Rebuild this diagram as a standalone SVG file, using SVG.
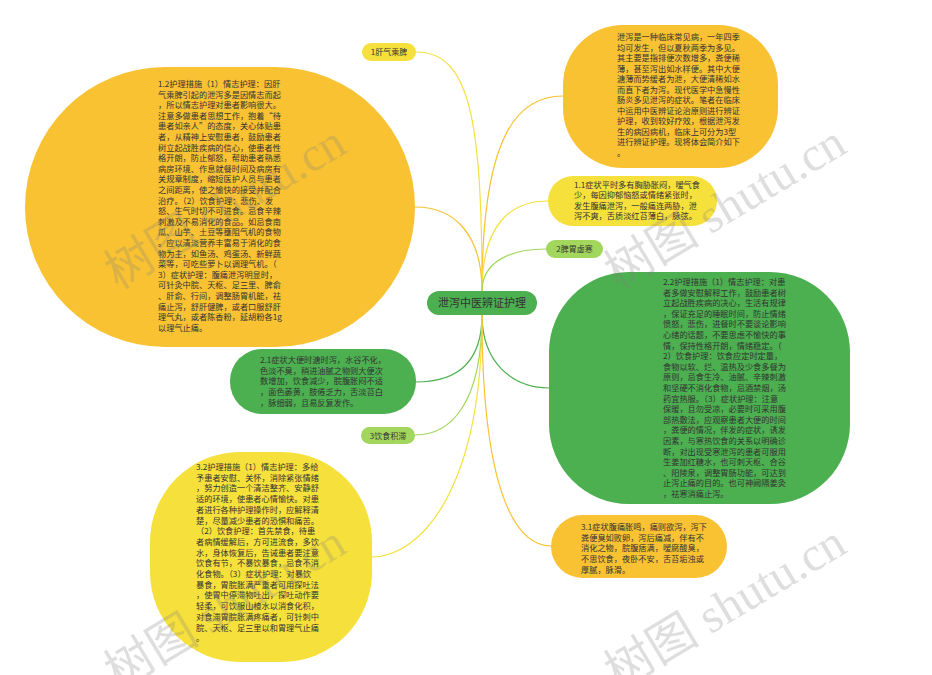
<svg xmlns="http://www.w3.org/2000/svg" width="932" height="675" viewBox="0 0 932 675">
<style>
.t{font-family:"Noto Sans CJK SC","Noto Sans",sans-serif;font-size:8.2px;fill:#333}
.s{font-family:"Noto Sans CJK SC","Noto Sans",sans-serif;font-size:8px;fill:#333;text-anchor:middle}
.m{font-family:"Noto Sans CJK SC","Noto Sans",sans-serif;font-size:11px;fill:#333;text-anchor:middle}
.c{fill:none;stroke-width:1.2}
.or{fill:#f9c232}.ye{fill:#f6e03b}.gr{fill:#4caf50}.lg{fill:#a2d65d}
.wm{font-family:"Liberation Serif","Noto Sans CJK SC",serif;font-size:48px;fill:#808080;opacity:0.25}
</style>
<rect width="932" height="675" fill="#fff"/>
<g id="connectors">
<path class="c" stroke="#f6e03b" d="M482,291 C482,120 470,52 416,52"/>
<path class="c" stroke="#f9c232" d="M482,291 C482,235 455,207 415,207"/>
<path class="c" stroke="#f9c232" d="M482,291 C482,130 520,96 563,96"/>
<path class="c" stroke="#f6e03b" d="M482,291 C482,225 510,201 548,201"/>
<path class="c" stroke="#a2d65d" d="M482,291 C482,262 510,249 546,249"/>
<path class="c" stroke="#4caf50" d="M482,315 C482,360 460,382 416,382"/>
<path class="c" stroke="#4caf50" d="M482,315 C482,362 512,388 549,388"/>
<path class="c" stroke="#a2d65d" d="M482,315 C482,405 450,435 415,435"/>
<path class="c" stroke="#f6e03b" d="M482,315 C482,490 420,557 372,557"/>
<path class="c" stroke="#f9c232" d="M482,315 C482,490 515,546 551,546"/>
</g>
<g id="center">
<rect class="gr" x="427" y="291" width="110" height="24" rx="12"/>
<text class="m" x="482" y="307">泄泻中医辨证护理</text>
</g>
<g id="n1">
<rect class="ye" x="362" y="43" width="54" height="18" rx="9"/>
<text class="s" x="389" y="55">1肝气乘脾</text>
</g>
<g id="n12">
<rect class="or" x="25" y="67" width="390" height="280" rx="140"/>
<text class="t" x="158" y="87"><tspan x="158">1.2护理措施（1）情志护理：因肝</tspan><tspan x="158" dy="10.6">气乘脾引起的泄泻多是因情志而起</tspan><tspan x="158" dy="10.6">，所以情志护理对患者影响很大。</tspan><tspan x="158" dy="10.6">注意多做患者思想工作，抱着“待</tspan><tspan x="158" dy="10.6">患者如亲人”的态度，关心体贴患</tspan><tspan x="158" dy="10.6">者，从精神上安慰患者，鼓励患者</tspan><tspan x="158" dy="10.6">树立起战胜疾病的信心，使患者性</tspan><tspan x="158" dy="10.6">格开朗，防止郁怒，帮助患者熟悉</tspan><tspan x="158" dy="10.6">病房环境、作息就餐时间及病房有</tspan><tspan x="158" dy="10.6">关规章制度，缩短医护人员与患者</tspan><tspan x="158" dy="10.6">之间距离，使之愉快的接受并配合</tspan><tspan x="158" dy="10.6">治疗。（2）饮食护理：悲伤、发</tspan><tspan x="158" dy="10.6">怒、生气时切不可进食。忌食辛辣</tspan><tspan x="158" dy="10.6">刺激及不易消化的食品。如忌食南</tspan><tspan x="158" dy="10.6">瓜、山芋、土豆等壅阻气机的食物</tspan><tspan x="158" dy="10.6">。应以清淡营养丰富易于消化的食</tspan><tspan x="158" dy="10.6">物为主，如鱼汤、鸡蛋汤、新鲜蔬</tspan><tspan x="158" dy="10.6">菜等，可吃些萝卜以调理气机。（</tspan><tspan x="158" dy="10.6">3）症状护理：腹痛泄泻明显时，</tspan><tspan x="158" dy="10.6">可针灸中脘、天枢、足三里、脾俞</tspan><tspan x="158" dy="10.6">、肝俞、行间，调整肠胃机能，祛</tspan><tspan x="158" dy="10.6">痛止泻，舒肝健脾，或者口服舒肝</tspan><tspan x="158" dy="10.6">理气丸，或者陈香粉，延胡粉各1g</tspan><tspan x="158" dy="10.6">以理气止痛。</tspan></text>
</g>
<g id="intro">
<rect class="or" x="563" y="25" width="215" height="143" rx="60"/>
<text class="t" x="617" y="40"><tspan x="617">泄泻是一种临床常见病，一年四季</tspan><tspan x="617" dy="10.5">均可发生，但以夏秋两季为多见。</tspan><tspan x="617" dy="10.5">其主要是指排便次数增多，粪便稀</tspan><tspan x="617" dy="10.5">薄，甚至泻出如水样便。其中大便</tspan><tspan x="617" dy="10.5">溏薄而势缓者为泄，大便清稀如水</tspan><tspan x="617" dy="10.5">而直下者为泻。现代医学中急慢性</tspan><tspan x="617" dy="10.5">肠炎多见泄泻的症状。笔者在临床</tspan><tspan x="617" dy="10.5">中运用中医辨证论治原则进行辨证</tspan><tspan x="617" dy="10.5">护理，收到较好疗效，根据泄泻发</tspan><tspan x="617" dy="10.5">生的病因病机，临床上可分为3型</tspan><tspan x="617" dy="10.5">进行辨证护理。现将体会简介如下</tspan><tspan x="617" dy="10.5">。</tspan></text>
</g>
<g id="n11">
<rect class="ye" x="548" y="176" width="169" height="50" rx="25"/>
<text class="t" x="574" y="188"><tspan x="574">1.1症状平时多有胸胁胀闷，嗳气食</tspan><tspan x="574" dy="10.3">少，每因抑郁恼怒或情绪紧张时，</tspan><tspan x="574" dy="10.3">发生腹痛泄泻，一般痛连两胁，泄</tspan><tspan x="574" dy="10.3">泻不爽，舌质淡红苔薄白，脉弦。</tspan></text>
</g>
<g id="n2">
<rect class="lg" x="546" y="240" width="57" height="18" rx="9"/>
<text class="s" x="574.5" y="252">2脾胃虚寒</text>
</g>
<g id="n22">
<rect class="gr" x="549" y="272" width="301" height="232" rx="80"/>
<text class="t" x="663" y="285"><tspan x="663">2.2护理措施（1）情志护理：对患</tspan><tspan x="663" dy="10.6">者多做安慰解释工作，鼓励患者树</tspan><tspan x="663" dy="10.6">立起战胜疾病的决心，生活有规律</tspan><tspan x="663" dy="10.6">，保证充足的睡眠时间，防止情绪</tspan><tspan x="663" dy="10.6">愤怒，悲伤，进餐时不要谈论影响</tspan><tspan x="663" dy="10.6">心绪的话题，不要思虑不愉快的事</tspan><tspan x="663" dy="10.6">情，保持性格开朗，情绪稳定。（</tspan><tspan x="663" dy="10.6">2）饮食护理：饮食应定时定量，</tspan><tspan x="663" dy="10.6">食物以软、烂、温热及少食多餐为</tspan><tspan x="663" dy="10.6">原则，忌食生冷、油腻、辛辣刺激</tspan><tspan x="663" dy="10.6">和坚硬不消化食物，忌酒禁烟，汤</tspan><tspan x="663" dy="10.6">药宜热服。（3）症状护理：注意</tspan><tspan x="663" dy="10.6">保暖，且勿受凉，必要时可采用腹</tspan><tspan x="663" dy="10.6">部热敷法，应观察患者大便的时间</tspan><tspan x="663" dy="10.6">，粪便的情况，伴发的症状，诱发</tspan><tspan x="663" dy="10.6">因素，与寒热饮食的关系以明确诊</tspan><tspan x="663" dy="10.6">断，对出现受寒泄泻的患者可服用</tspan><tspan x="663" dy="10.6">生姜加红糖水，也可刺天枢、合谷</tspan><tspan x="663" dy="10.6">、阳陵泉，调整胃肠功能，可达到</tspan><tspan x="663" dy="10.6">止泻止痛的目的。也可神阙隔姜灸</tspan><tspan x="663" dy="10.6">，祛寒消痛止泻。</tspan></text>
</g>
<g id="n21">
<rect class="gr" x="230" y="349" width="186" height="65" rx="32"/>
<text class="t" x="260" y="363"><tspan x="260">2.1症状大便时溏时泻，水谷不化，</tspan><tspan x="260" dy="10.7">色淡不臭，稍进油腻之物则大便次</tspan><tspan x="260" dy="10.7">数增加，饮食减少，脘腹胀闷不适</tspan><tspan x="260" dy="10.7">，面色萎黄，肢倦乏力，舌淡苔白</tspan><tspan x="260" dy="10.7">，脉细弱，且易反复发作。</tspan></text>
</g>
<g id="n3">
<rect class="lg" x="361" y="427" width="54" height="17" rx="8.5"/>
<text class="s" x="388" y="438.5">3饮食积滞</text>
</g>
<g id="n32">
<rect class="ye" x="150" y="452" width="222" height="210" rx="90"/>
<text class="t" x="196" y="470"><tspan x="196">3.2护理措施（1）情志护理：多给</tspan><tspan x="196" dy="10.7">予患者安慰、关怀，消除紧张情绪</tspan><tspan x="196" dy="10.7">，努力创造一个清洁整齐、安静舒</tspan><tspan x="196" dy="10.7">适的环境，使患者心情愉快。对患</tspan><tspan x="196" dy="10.7">者进行各种护理操作时，应解释清</tspan><tspan x="196" dy="10.7">楚，尽量减少患者的恐惧和痛苦。</tspan><tspan x="196" dy="10.7">（2）饮食护理：首先禁食，待患</tspan><tspan x="196" dy="10.7">者病情缓解后，方可进流食，多饮</tspan><tspan x="196" dy="10.7">水，身体恢复后，告诫患者要注意</tspan><tspan x="196" dy="10.7">饮食有节，不暴饮暴食，忌食不消</tspan><tspan x="196" dy="10.7">化食物。（3）症状护理：对暴饮</tspan><tspan x="196" dy="10.7">暴食，胃脘胀满严重者可用探吐法</tspan><tspan x="196" dy="10.7">，使胃中停滞物吐出，探吐动作要</tspan><tspan x="196" dy="10.7">轻柔，可饮服山楂水以消食化积，</tspan><tspan x="196" dy="10.7">对食滞胃脘胀满疼痛者，可针刺中</tspan><tspan x="196" dy="10.7">脘、天枢、足三里以和胃理气止痛</tspan><tspan x="196" dy="10.7">。</tspan></text>
</g>
<g id="n31">
<rect class="or" x="551" y="515" width="176" height="63" rx="31.5"/>
<text class="t" x="581" y="530"><tspan x="581">3.1症状腹痛胀鸣，痛则欲泻，泻下</tspan><tspan x="581" dy="10.7">粪便臭如败卵，泻后痛减，伴有不</tspan><tspan x="581" dy="10.7">消化之物，脘腹痞满，嗳腐酸臭，</tspan><tspan x="581" dy="10.7">不思饮食，夜卧不安，舌苔垢浊或</tspan><tspan x="581" dy="10.7">厚腻，脉滑。</tspan></text>
</g>
<g id="watermarks">
<text class="wm" transform="translate(118,290) rotate(-31)">树图 shutu.cn</text>
<text class="wm" transform="translate(618,290) rotate(-31)">树图 shutu.cn</text>
<text class="wm" transform="translate(118,690) rotate(-31)">树图 shutu.cn</text>
<text class="wm" transform="translate(618,690) rotate(-31)">树图 shutu.cn</text>
</g>
</svg>
